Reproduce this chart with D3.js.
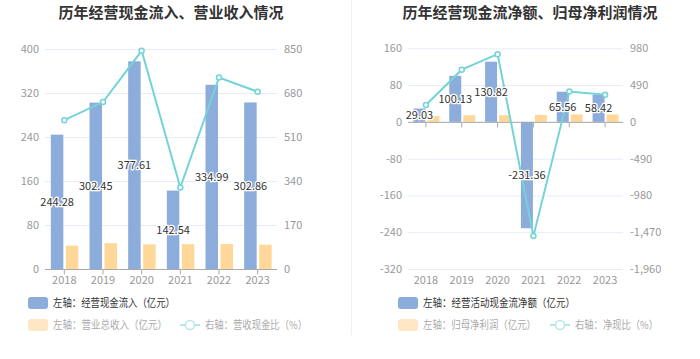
<!DOCTYPE html>
<html><head><meta charset="utf-8">
<script src="https://cdn.jsdelivr.net/npm/d3@7/dist/d3.min.js"></script>
<style>
html,body{margin:0;padding:0;background:#fff;}
svg{display:block;font-family:"Noto Sans CJK SC","Noto Sans",sans-serif;}
</style></head>
<body>
<svg id="c" width="700" height="359"></svg>
<script>
const years = ["2018","2019","2020","2021","2022","2023"];
// left chart
const cashInflow = [244.28, 302.45, 377.61, 142.54, 334.99, 302.86];
const revenue = [42.5, 46.9, 44.8, 45.2, 45.3, 44.2];
const cashRevRatio = [575, 645, 843, 315, 740, 685];
const leftTicksL = [0, 80, 160, 240, 320, 400];
const leftTicksR = [0, 170, 340, 510, 680, 850];
// right chart
const netCashFlow = [29.03, 100.13, 130.82, -231.36, 65.56, 58.42];
const netProfit = [12.9, 14.4, 14.5, 15.2, 16.2, 16.2];
const netCashRatio = [225, 695, 902, -1522, 405, 361];
const rightTicksL = [-320, -240, -160, -80, 0, 80, 160];
const rightTicksR = [-1960, -1470, -980, -490, 0, 490, 980];

const BLUE = "#8cacdb", ORANGE = "#ffd899", ORANGE_LEG = "#ffe7c6", TEAL = "#74d3d7", GRID = "#e6ebf5";
const svg = d3.select("#c");
const fmt = d3.formatLocale({decimal:".", thousands:",", grouping:[3], currency:["",""], minus:"-"}).format(",");

// separator
svg.append("line").attr("x1",351.5).attr("x2",351.5).attr("y1",0).attr("y2",335).attr("stroke","#f0f0f0");

function chart(o){
  const g = svg.append("g");
  const x = d3.scaleBand().domain(years).range([o.x0, o.x1]);
  const yL = d3.scaleLinear().domain(o.domL).range([o.yb, o.yt]);
  const yR = d3.scaleLinear().domain(o.domR).range([o.yb, o.yt]);
  g.append("text").attr("x",o.tx).attr("y",18).attr("text-anchor","middle")
    .attr("font-size",15).attr("font-weight","bold").attr("fill","#333").text(o.title);
  g.selectAll(".gl").data(o.ticksL).enter().append("line")
    .attr("x1",o.x0).attr("x2",o.x1).attr("y1",d=>yL(d)+0.5).attr("y2",d=>yL(d)+0.5)
    .attr("stroke",GRID);
  g.selectAll(".tl").data(o.ticksL).enter().append("text")
    .attr("x",o.x0-6).attr("y",d=>yL(d)).attr("dy","0.35em").attr("text-anchor","end")
    .attr("font-size",11).attr("fill","#999").text(d=>fmt(d));
  g.selectAll(".tr").data(o.ticksR).enter().append("text")
    .attr("x",o.x1+7).attr("y",d=>yR(d)).attr("dy","0.35em").attr("text-anchor","start")
    .attr("font-size",11).attr("fill","#999").text(d=>fmt(d));
  const c = d => x(d)+x.bandwidth()/2;
  g.selectAll(".b1").data(o.bars1).enter().append("rect")
    .attr("x",(d,i)=>c(years[i])+o.b1off).attr("width",o.bw)
    .attr("y",d=>Math.min(yL(d),yL(0))).attr("height",d=>Math.abs(yL(d)-yL(0)))
    .attr("fill",BLUE);
  g.selectAll(".b2").data(o.bars2).enter().append("rect")
    .attr("x",(d,i)=>c(years[i])+o.b2off).attr("width",o.bw)
    .attr("y",d=>Math.min(yL(d),yL(0))).attr("height",d=>Math.abs(yL(d)-yL(0)))
    .attr("fill",ORANGE);
  const y0 = yL(0)+0.5;
  g.append("line").attr("x1",o.x0).attr("x2",o.x1).attr("y1",y0).attr("y2",y0).attr("stroke","#aaa");
  g.selectAll(".tk").data(years).enter().append("line")
    .attr("x1",d=>c(d)).attr("x2",d=>c(d)).attr("y1",y0).attr("y2",y0+5).attr("stroke","#aaa");
  g.selectAll(".xl").data(years).enter().append("text")
    .attr("x",d=>c(d)).attr("y",o.yb+11).attr("dy","0.35em").attr("text-anchor","middle")
    .attr("font-size",11).attr("fill","#999").text(d=>d);
  const line = d3.line().x((d,i)=>c(years[i])).y(d=>yR(d));
  g.append("path").datum(o.line).attr("d",line).attr("fill","none").attr("stroke",TEAL).attr("stroke-width",2);
  g.selectAll(".pt").data(o.line).enter().append("circle")
    .attr("cx",(d,i)=>c(years[i])).attr("cy",d=>yR(d)).attr("r",2.5)
    .attr("fill","#fff").attr("stroke",TEAL).attr("stroke-width",1.5);
  g.selectAll(".lb").data(o.bars1).enter().append("text")
    .attr("x",(d,i)=>c(years[i])+o.b1off+o.bw/2).attr("y",d=>(yL(d)+yL(0))/2).attr("dy","0.35em")
    .attr("text-anchor","middle").attr("font-size",11).attr("fill","#333")
    .attr("stroke","#fff").attr("stroke-width",2.5).attr("paint-order","stroke")
    .text(d=>d.toFixed(2));
  const L = o.leg;
  const lg = g.append("g");
  const txt = (xx,yy,t,w,col) => lg.append("text").attr("x",xx).attr("y",yy).attr("dy","0.35em")
    .attr("font-size",11).attr("fill",col).attr("textLength",w).attr("lengthAdjust","spacingAndGlyphs").text(t);
  lg.append("rect").attr("x",L.x).attr("y",297).attr("width",20).attr("height",12).attr("rx",3).attr("fill",BLUE);
  txt(L.x+25,303,L.t1,L.w1,"#333");
  lg.append("rect").attr("x",L.x).attr("y",319).attr("width",20).attr("height",12).attr("rx",3).attr("fill",ORANGE_LEG);
  txt(L.x+25,325,L.t2,L.w2,"#aaa");
  lg.append("line").attr("x1",L.lx).attr("x2",L.lx+20).attr("y1",325).attr("y2",325).attr("stroke","#b8e6e8").attr("stroke-width",2);
  lg.append("circle").attr("cx",L.lx+10).attr("cy",325).attr("r",4.5).attr("fill","#fff").attr("stroke","#b8e6e8").attr("stroke-width",1.5);
  txt(L.lx+25,325,L.t3,L.w3,"#aaa");
}

chart({title:"历年经营现金流入、营业收入情况", tx:171, x0:45, x1:277, yt:49, yb:269,
  domL:[0,400], domR:[0,850], ticksL:leftTicksL, ticksR:leftTicksR,
  bars1:cashInflow, bars2:revenue, line:cashRevRatio, bw:12.5, b1off:-13.5, b2off:1.5,
  leg:{x:28, lx:180, t1:"左轴：经营现金流入（亿元）", t2:"左轴：营业总收入（亿元）", t3:"右轴：营收现金比（%）",
       w1:122, w2:114, w3:102}});

chart({title:"历年经营现金流净额、归母净利润情况", tx:530, x0:408, x1:623, yt:48.3, yb:269,
  domL:[-320,160], domR:[-1960,980], ticksL:rightTicksL, ticksR:rightTicksR,
  bars1:netCashFlow, bars2:netProfit, line:netCashRatio, bw:12, b1off:-12.5, b2off:1.5,
  leg:{x:398, lx:550, t1:"左轴：经营活动现金流净额（亿元）", t2:"左轴：归母净利润（亿元）", t3:"右轴：净现比（%）",
       w1:152, w2:113, w3:83}});
</script>
</body></html>
